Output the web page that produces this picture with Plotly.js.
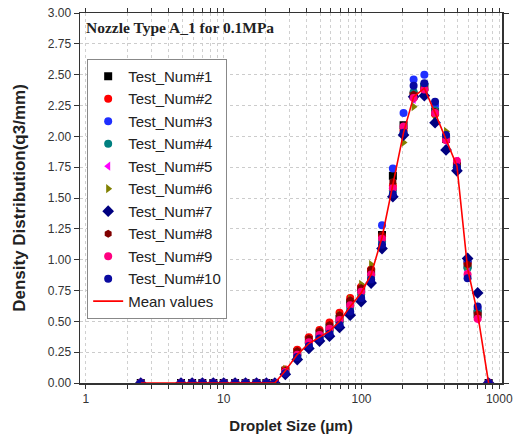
<!DOCTYPE html>
<html><head><meta charset="utf-8">
<script src="https://cdn.plot.ly/plotly-3.0.1.min.js"></script>
<style>html,body{margin:0;padding:0;background:#fff}#chart{width:522px;height:435px}</style>
</head><body><div id="chart"></div>
<script>
const sizes = [2.5, 4.9, 5.9, 7.0, 8.4, 10.0, 12.1, 14.4, 17.3, 20.4, 23.5, 28.0, 34.2, 41.5, 49.6, 58.6, 69.3, 82.8, 99.5, 117.5, 141, 169, 202, 239, 286, 342, 411, 493, 589, 697, 837];
const zeros = [0,0,0,0,0,0,0,0,0,0,0];
const test1  = zeros.concat([0.10,0.25,0.35,0.40,0.45,0.52,0.65,0.76,0.90,1.20,1.68,2.09,2.33,2.40,2.20,1.98,1.76,0.96,0.56,0]);
const test2  = zeros.concat([0.11,0.27,0.37,0.43,0.49,0.57,0.69,0.78,0.92,1.19,1.60,2.05,2.35,2.38,2.18,1.97,1.76,0.97,0.57,0]);
const test3  = zeros.concat([0.08,0.20,0.29,0.35,0.39,0.46,0.57,0.68,0.83,1.28,1.74,2.19,2.46,2.50,2.25,2.00,1.73,0.99,0.60,0]);
const test4  = zeros.concat([0.09,0.22,0.32,0.37,0.42,0.49,0.61,0.72,0.86,1.15,1.56,2.02,2.36,2.42,2.21,1.99,1.75,0.93,0.58,0]);
const test5  = zeros.concat([0.10,0.24,0.33,0.38,0.44,0.50,0.62,0.74,0.89,1.18,1.59,2.07,2.30,2.37,2.19,1.96,1.80,0.90,0.51,0]);
const test6  = zeros.concat([0.11,0.25,0.35,0.41,0.46,0.55,0.68,0.80,0.96,1.18,1.62,1.95,2.24,2.36,2.17,2.04,1.77,0.95,0.54,0]);
const test7  = zeros.concat([0.07,0.19,0.28,0.34,0.38,0.45,0.55,0.66,0.81,1.09,1.51,2.01,2.32,2.33,2.11,1.89,1.72,1.01,0.73,0]);
const test8  = zeros.concat([0.10,0.26,0.36,0.42,0.47,0.55,0.67,0.77,0.92,1.20,1.63,2.06,2.34,2.39,2.20,1.98,1.77,0.96,0.56,0]);
const test9  = zeros.concat([0.09,0.23,0.33,0.39,0.44,0.51,0.63,0.74,0.88,1.17,1.58,2.08,2.31,2.38,2.19,1.97,1.80,0.88,0.52,0]);
const test10 = zeros.concat([0.08,0.21,0.30,0.36,0.40,0.47,0.58,0.69,0.84,1.12,1.53,2.03,2.41,2.43,2.28,2.01,1.75,0.85,0.62,0]);
const meanValues = zeros.concat([0.10,0.23,0.32,0.37,0.42,0.50,0.62,0.73,0.88,1.18,1.60,2.03,2.32,2.39,2.19,1.97,1.76,0.93,0.56,0]);

const seriesNames = ["Test_Num#1","Test_Num#2","Test_Num#3","Test_Num#4","Test_Num#5","Test_Num#6","Test_Num#7","Test_Num#8","Test_Num#9","Test_Num#10"];
const seriesData = [test1,test2,test3,test4,test5,test6,test7,test8,test9,test10];
const colors = ["#000000","#ff0000","#1f2fff","#008080","#ff00ff","#808000","#000080","#800000","#ff0080","#0a0aa0"];
const symbols = ["square","circle","circle","circle","triangle-left","triangle-right","diamond","hexagon","circle","circle"];
const xTickVals = [1,2,3,4,5,6,7,8,9,10,20,30,40,50,60,70,80,90,100,200,300,400,500,600,700,800,900,1000];
const xTickText = ['1','','','','','','','','','10','','','','','','','','','100','','','','','','','','','1000'];

const traces = seriesData.map((d,i)=>({
  x: sizes, y: d, name: seriesNames[i], type:'scatter', mode:'markers',
  marker:{symbol:symbols[i], color:colors[i], size:(symbols[i]==='diamond'?9:8), line:{width:0}}
}));
traces.push({x:sizes, y:meanValues, name:'Mean values', type:'scatter', mode:'lines', line:{color:'#ff0000', width:1.6}});

const layout = {
  width:522, height:435,
  margin:{l:80, r:20, t:13, b:52},
  paper_bgcolor:'#fff', plot_bgcolor:'#fff',
  font:{family:'Arial, Liberation Sans, sans-serif', color:'#222'},
  showlegend:true,
  legend:{x:0.017, y:0.876, xanchor:'left', yanchor:'top', bgcolor:'#fff', bordercolor:'#888', borderwidth:1,
          font:{size:15, family:'Arial, Liberation Sans, sans-serif', color:'#222'}},
  xaxis:{type:'log', range:[-0.043, 3.02], tickmode:'array', tickvals:xTickVals, ticktext:xTickText,
         ticks:'outside', ticklen:4, tickwidth:1, tickcolor:'#333',
         showline:true, linecolor:'#333', linewidth:1.5, mirror:'allticks',
         showgrid:true, gridcolor:'#d0d0d0', griddash:'dot', gridwidth:1, zeroline:false,
         tickfont:{size:12, color:'#333'},
         title:{text:'<b>Droplet Size (μm)</b>', font:{size:15, color:'#222'}, standoff:15}},
  yaxis:{range:[0,3], dtick:0.25, tickformat:'.2f',
         ticks:'outside', ticklen:5, tickwidth:1, tickcolor:'#333',
         showline:true, linecolor:'#333', linewidth:1.5, mirror:'allticks',
         showgrid:true, gridcolor:'#cccccc', griddash:'dot', zeroline:false,
         tickfont:{size:12, color:'#333'},
         title:{text:'<b>Density Distribution(q3/mm)</b>', font:{size:17, color:'#222'}, standoff:18}},
  annotations:[{text:'<b>Nozzle Type A_1 for 0.1MPa</b>', xref:'paper', yref:'paper', x:0.01, y:0.988, xanchor:'left', yanchor:'top',
                showarrow:false, font:{family:'Liberation Serif, Times New Roman, serif', size:15.5, color:'#222'}}]
};
Plotly.newPlot('chart', traces, layout, {displayModeBar:false, staticPlot:true});
</script></body></html>
